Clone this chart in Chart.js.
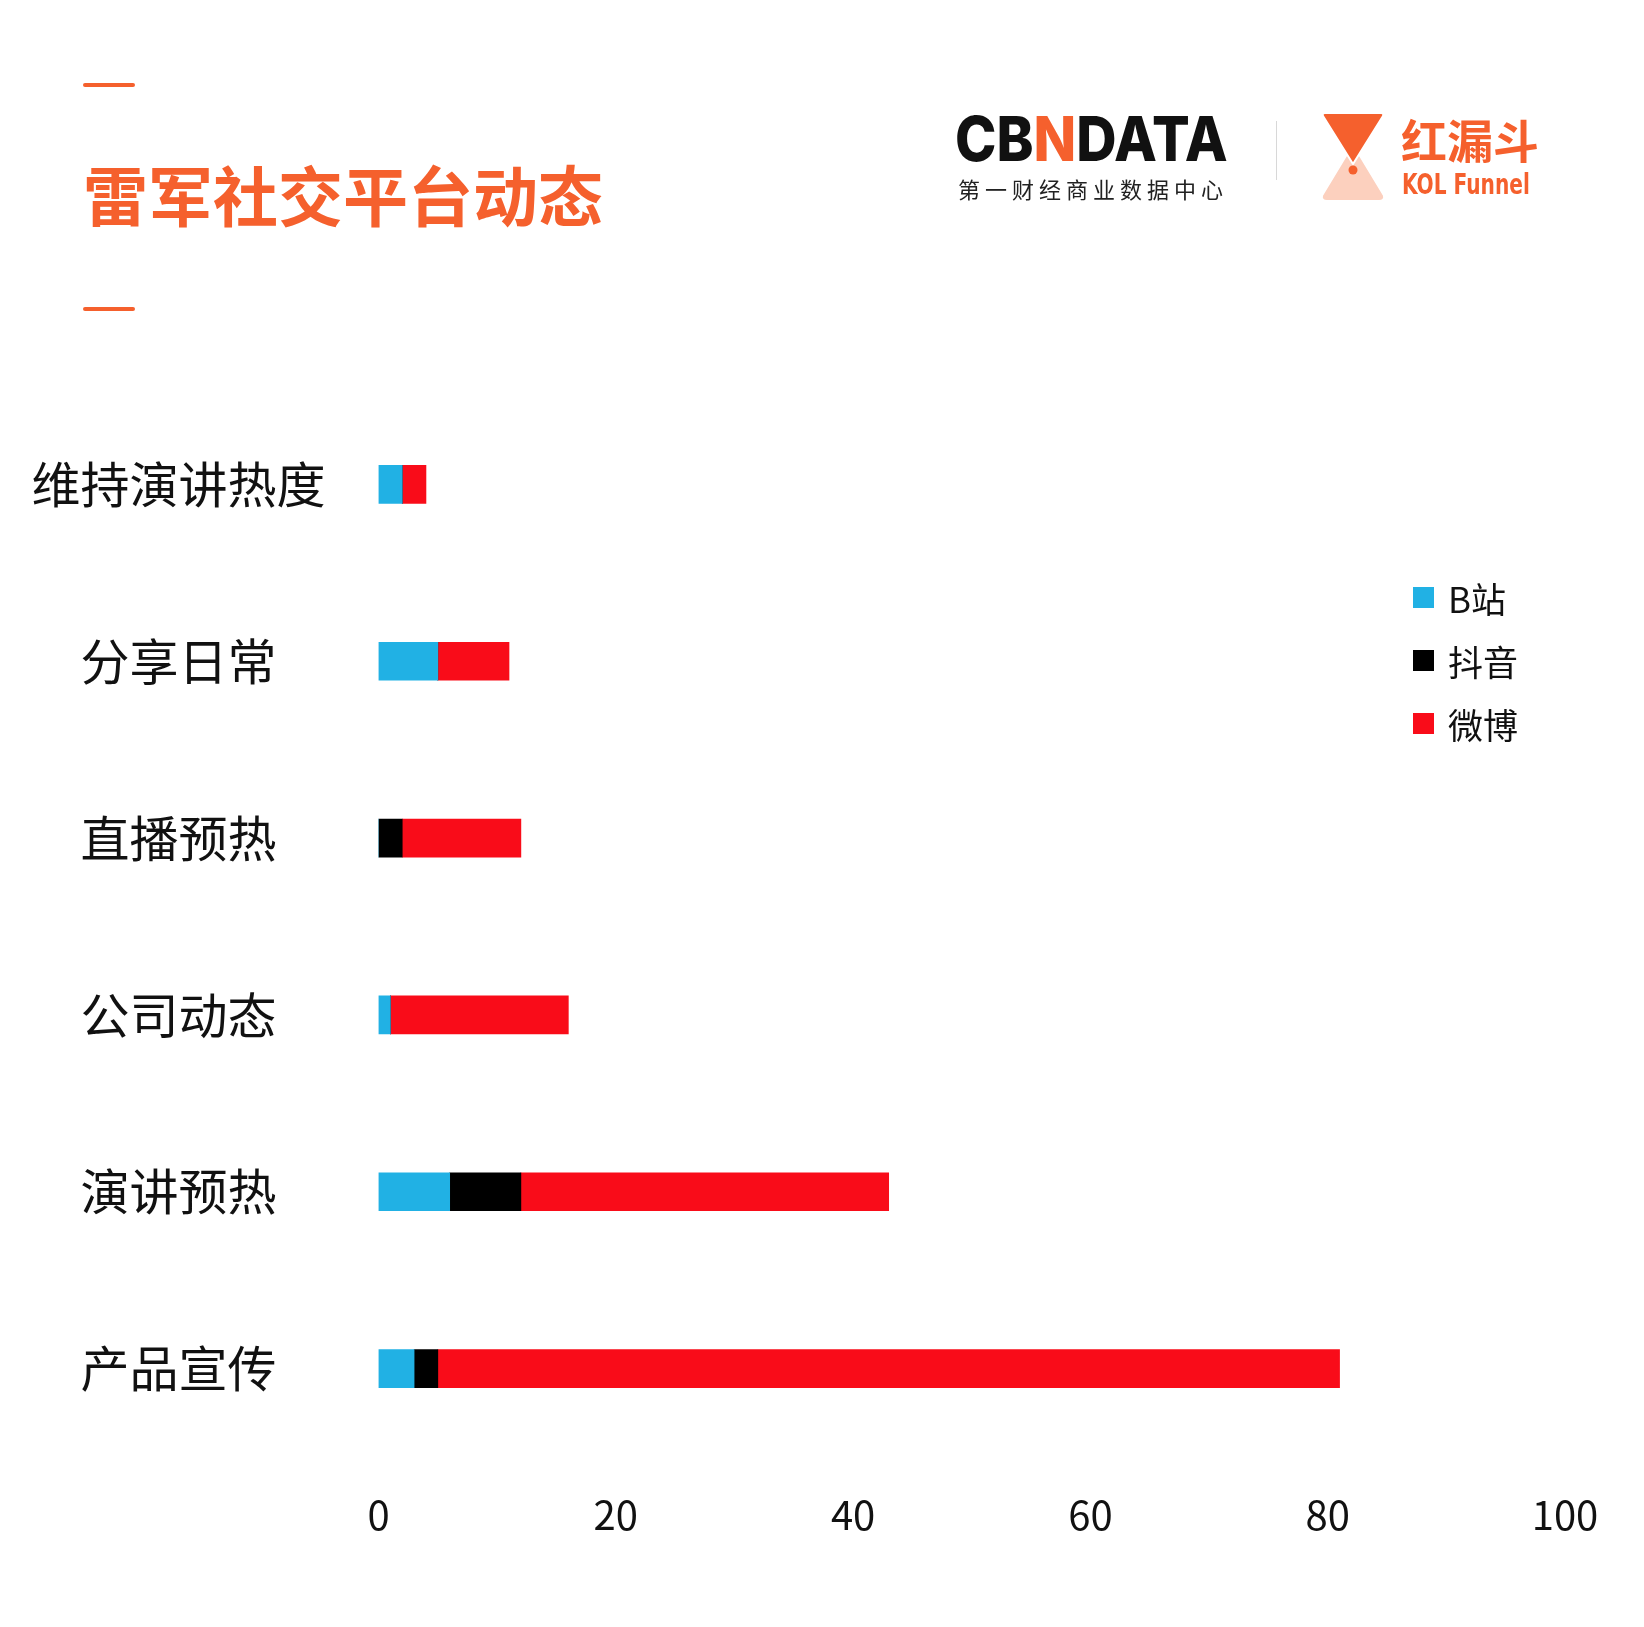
<!DOCTYPE html>
<html lang="zh">
<head>
<meta charset="utf-8">
<title>雷军社交平台动态</title>
<script src="https://cdn.jsdelivr.net/npm/chart.js@4.4.1/dist/chart.umd.min.js"></script>
<style>
    body { margin: 0; background: #fff; font-family: "Noto Sans CJK SC", "Noto Sans", sans-serif; }
    #page { position: relative; width: 1644px; height: 1627px; overflow: hidden; }
    #chart-wrap { position: absolute; left: 0; top: 0; width: 1644px; height: 1627px; }
    .rule { position: absolute; left: 83px; width: 52px; height: 4px; background: #F5602D; border-radius: 2px; }
    h1 { position: absolute; margin: 0; left: 83px; top: 161px; font-size: 65px; line-height: 65px; font-weight: 700; color: #F5602D; white-space: nowrap; }
    .cbn { position: absolute; left: 955px; top: 104px; font-family: Inter, "DejaVu Sans", sans-serif; font-weight: 800; font-size: 62px; line-height: 70px; color: #111; white-space: nowrap; transform: scaleX(0.9); transform-origin: left top; }
    .cbn span { color: #F5602D; }
    .cbn-sub { position: absolute; left: 958px; top: 174px; font-size: 22px; line-height: 28px; letter-spacing: 5px; color: #222; white-space: nowrap; }
    .sep { position: absolute; left: 1276px; top: 121px; width: 1px; height: 59px; background: #d8d8d8; }
    .funnel { position: absolute; left: 1321px; top: 112px; }
    .kol-cn { position: absolute; left: 1401px; top: 108px; font-size: 46px; line-height: 60px; font-weight: 700; color: #F5602D; white-space: nowrap; }
    .kol-en { position: absolute; left: 1402px; top: 170px; font-family: "Liberation Sans Narrow", "DejaVu Sans Condensed", sans-serif; font-weight: 700; font-size: 28px; line-height: 30px; color: #F5602D; white-space: nowrap; transform: scaleX(0.8); transform-origin: left top; }
    #legend { position: absolute; left: 1413px; top: 566px; margin: 0; padding: 0; list-style: none; }
    #legend li { display: flex; align-items: center; height: 63px; font-size: 35px; color: #111; }
    #legend i { display: inline-block; width: 21px; height: 21px; margin-right: 14px; }
</style>
</head>
<body>
<div id="page">
    <div id="chart-wrap"><canvas id="myBarChart" width="1644" height="1627"></canvas></div>

    <div class="rule" style="top:83px"></div>
    <h1>雷军社交平台动态</h1>
    <div class="rule" style="top:307px"></div>

    <div class="cbn">CB<span>N</span>DATA</div>
    <div class="cbn-sub">第一财经商业数据中心</div>
    <div class="sep"></div>
    <svg class="funnel" width="64" height="88" viewBox="0 0 64 88">
        <path d="M32 36 L61 84 Q62 87 58 87 L6 87 Q2 87 3 84 Z" fill="#FCD0BE" stroke="#FCD0BE" stroke-width="2" stroke-linejoin="round"/>
        <path d="M4 1 L60 1 Q63 1 62 4 L32 52 L2 4 Q1 1 4 1 Z" fill="#F5602D" stroke="#fff" stroke-width="2" stroke-linejoin="round"/>
        <circle cx="32" cy="58" r="4.5" fill="#F5602D"/>
    </svg>
    <div class="kol-cn">红漏斗</div>
    <div class="kol-en">KOL Funnel</div>

    <ul id="legend"></ul>
</div>

<script>
const categories = ['维持演讲热度', '分享日常', '直播预热', '公司动态', '演讲预热', '产品宣传'];
const seriesNames = ['B站', '抖音', '微博'];
const bilibili = [2, 5, 0, 1, 6, 3];
const douyin = [0, 0, 2, 0, 6, 2];
const weibo = [2, 6, 10, 15, 31, 76];
const xTicks = [0, 20, 40, 60, 80, 100];
const colors = ['#21B1E4', '#000000', '#F90C19'];

const datasets = [bilibili, douyin, weibo].map((values, i) => ({
    label: seriesNames[i],
    data: values,
    backgroundColor: colors[i],
    borderWidth: 0,
    barThickness: 38
}));

const buildLegend = () => {
    const list = document.getElementById('legend');
    datasets.forEach(ds => {
        const li = document.createElement('li');
        const box = document.createElement('i');
        box.style.background = ds.backgroundColor;
        li.appendChild(box);
        li.appendChild(document.createTextNode(ds.label));
        list.appendChild(li);
    });
};

const ctx = document.getElementById('myBarChart').getContext('2d');
new Chart(ctx, {
    type: 'bar',
    data: {
        labels: categories,
        datasets: datasets
    },
    options: {
        indexAxis: 'y',
        responsive: false,
        animation: false,
        layout: {
            padding: { top: 396, right: 79, bottom: 88, left: 0 }
        },
        plugins: {
            legend: { display: false },
            tooltip: { enabled: false }
        },
        scales: {
            x: {
                stacked: true,
                min: xTicks[0],
                max: xTicks[xTicks.length - 1],
                grid: { display: false },
                border: { display: false },
                afterBuildTicks: scale => {
                    scale.ticks = xTicks.map(v => ({ value: v }));
                },
                afterFit: scale => { scale.height = 82; },
                ticks: {
                    padding: 26,
                    color: '#111',
                    font: { family: '"Noto Sans CJK SC", "Noto Sans", sans-serif', size: 40 }
                }
            },
            y: {
                stacked: true,
                grid: { display: false },
                border: { display: false },
                afterFit: scale => { scale.width = 378.5; },
                ticks: {
                    crossAlign: 'center',
                    padding: 45,
                    color: '#111',
                    font: { family: '"Noto Sans CJK SC", sans-serif', size: 49 }
                }
            }
        }
    }
});

buildLegend();
</script>
</body>
</html>
